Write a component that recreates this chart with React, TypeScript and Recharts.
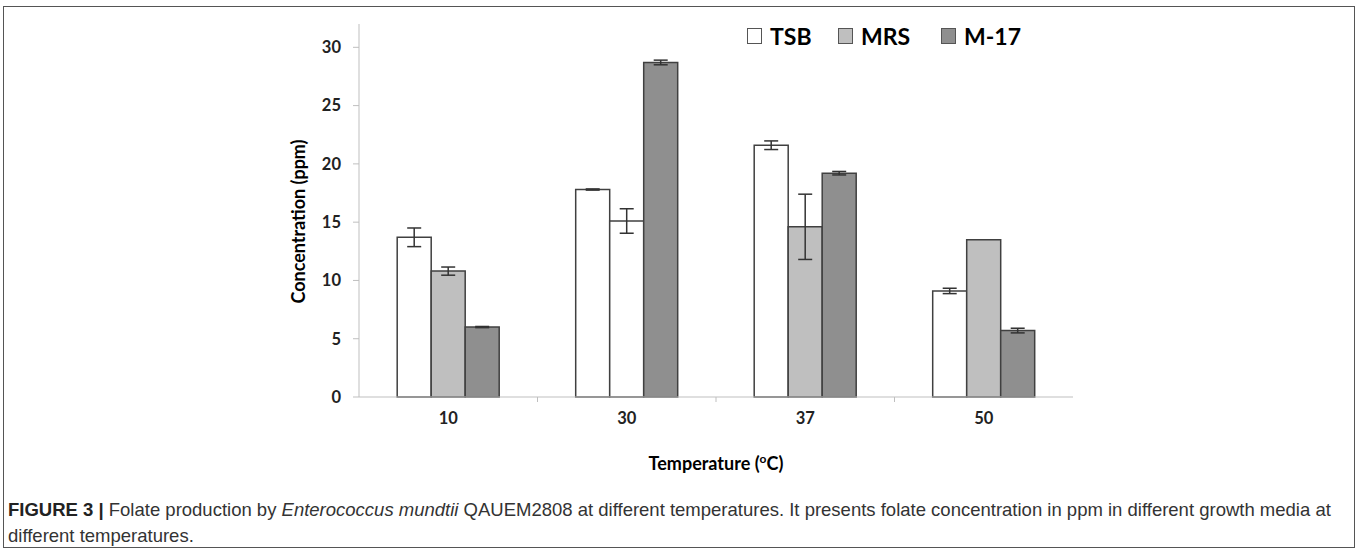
import React from "react";
import { BarChart, Bar, XAxis, YAxis, ErrorBar, Cell } from "recharts";

// Folate concentration (ppm) per growth medium at each temperature
const temperatures = ["10", "30", "37", "50"];
const tsb = [13.7, 17.8, 21.6, 9.1];
const tsbErr = [0.8, 0.05, 0.37, 0.23];
const mrs = [10.8, 15.1, 14.6, 13.5];
const mrsErr = [0.35, 1.05, 2.8, 0];
const m17 = [6.0, 28.7, 19.2, 5.7];
const m17Err = [0.05, 0.2, 0.15, 0.2];
const yTicks = [0, 5, 10, 15, 20, 25, 30];

const data = temperatures.map((t, i) => ({
  temp: t,
  TSB: tsb[i],
  tsbErr: tsbErr[i],
  MRS: mrs[i],
  mrsErr: mrsErr[i],
  M17: m17[i],
  m17Err: m17Err[i],
}));

const W = 1358;
const H = 480;
const M = { top: 24, right: 285, bottom: 23, left: 299 };
const BAND = (W - M.left - M.right - 60) / temperatures.length;

const FONT = "Lato, 'Open Sans', sans-serif";
const EDGE = "#404040";
const AXIS = "#bfbfbf";
const colors = { TSB: "#ffffff", MRS: "#bfbfbf", M17: "#8f8f8f" };

const XTick = (props: any) => {
  const { x, y, payload, index } = props;
  return (
    <g>
      <text
        x={x}
        y={y + 27}
        textAnchor="middle"
        fontFamily={FONT}
        fontWeight={700}
        fontSize={16.5}
        fill="#222"
      >
        {payload.value}
      </text>
      {index < temperatures.length - 1 && (
        <line x1={x + BAND / 2} x2={x + BAND / 2} y1={y} y2={y + 5} stroke={AXIS} />
      )}
    </g>
  );
};

const legendItems = [
  { label: "TSB", fill: colors.TSB, w: 91 },
  { label: "MRS", fill: colors.MRS, w: 103 },
  { label: "M-17", fill: colors.M17, w: 90 },
];

export default function App() {
  return (
    <div style={{ position: "absolute", left: 0, top: 0, width: W, height: 552, background: "#fff" }}>
      <div
        style={{
          position: "absolute",
          left: 3,
          top: 6,
          width: 1352,
          height: 542,
          border: "1.5px solid #555",
          boxSizing: "border-box",
        }}
      />
      <div style={{ position: "absolute", left: 0, top: 0 }}>
        <BarChart
          width={W}
          height={H}
          data={data}
          margin={M}
          barGap={0}
          barCategoryGap="21.4%"
        >
          <XAxis
            dataKey="temp"
            height={60}
            stroke={AXIS}
            tickLine={false}
            tickSize={0}
            tickMargin={0}
            tick={<XTick />}
            label={{
              content: ({ viewBox }: any) => (
                <text
                  x={viewBox.x + viewBox.width / 2}
                  y={viewBox.y + 73}
                  textAnchor="middle"
                  fontFamily={FONT}
                  fontWeight={700}
                  fontSize={18}
                  fill="#000"
                >
                  Temperature (
                  <tspan dy={-7} fontSize={12}>o</tspan>
                  <tspan dy={7}>C)</tspan>
                </text>
              ),
            }}
          />
          <YAxis
            width={60}
            domain={[0, 32]}
            ticks={yTicks}
            stroke={AXIS}
            tickSize={6}
            tickMargin={12}
            tick={{ fontFamily: FONT, fontWeight: 700, fontSize: 16.5, fill: "#222" }}
            label={{
              content: ({ viewBox }: any) => {
                const cx = viewBox.x - 1;
                const cy = viewBox.y + viewBox.height / 2 + 11;
                return (
                  <text
                    x={cx}
                    y={cy}
                    transform={`rotate(-90 ${cx} ${cy})`}
                    textAnchor="middle"
                    dominantBaseline="central"
                    fontFamily={FONT}
                    fontWeight={700}
                    fontSize={18}
                    fill="#000"
                  >
                    Concentration (ppm)
                  </text>
                );
              },
            }}
          />
          <Bar dataKey="TSB" fill={colors.TSB} stroke={EDGE} strokeWidth={1.5} isAnimationActive={false}>
            <ErrorBar dataKey="tsbErr" width={7} stroke="#333" strokeWidth={1.5} />
          </Bar>
          <Bar dataKey="MRS" fill={colors.MRS} stroke={EDGE} strokeWidth={1.5} isAnimationActive={false}>
            {data.map((d) => (
              <Cell key={d.temp} fill={d.temp === "30" ? "#ffffff" : colors.MRS} />
            ))}
            <ErrorBar dataKey="mrsErr" width={7} stroke="#333" strokeWidth={1.5} />
          </Bar>
          <Bar dataKey="M17" fill={colors.M17} stroke={EDGE} strokeWidth={1.5} isAnimationActive={false}>
            <ErrorBar dataKey="m17Err" width={7} stroke="#333" strokeWidth={1.5} />
          </Bar>
        </BarChart>
      </div>
      <div style={{ position: "absolute", top: 24, left: 747, display: "flex", alignItems: "center" }}>
        {legendItems.map((it) => (
          <div key={it.label} style={{ width: it.w, display: "flex", alignItems: "center" }}>
            <span
              style={{
                width: 13,
                height: 14,
                background: it.fill,
                border: "1px solid #555",
                marginRight: 8,
                display: "inline-block",
              }}
            />
            <span style={{ fontFamily: FONT, fontWeight: 700, fontSize: 23, color: "#000", lineHeight: "24px" }}>
              {it.label}
            </span>
          </div>
        ))}
      </div>
      <div
        style={{
          position: "absolute",
          left: 8,
          top: 497,
          width: 1345,
          whiteSpace: "nowrap",
          fontFamily: "'Liberation Sans', Arial, sans-serif",
          fontSize: 18.5,
          lineHeight: "26px",
          color: "#333",
        }}
      >
        <b style={{ color: "#222" }}>FIGURE 3 |</b> Folate production by <i>Enterococcus mundtii</i>{" "}
        QAUEM2808 at different temperatures. It presents folate concentration in ppm in different growth
        media at
        <br />
        different temperatures.
      </div>
    </div>
  );
}
